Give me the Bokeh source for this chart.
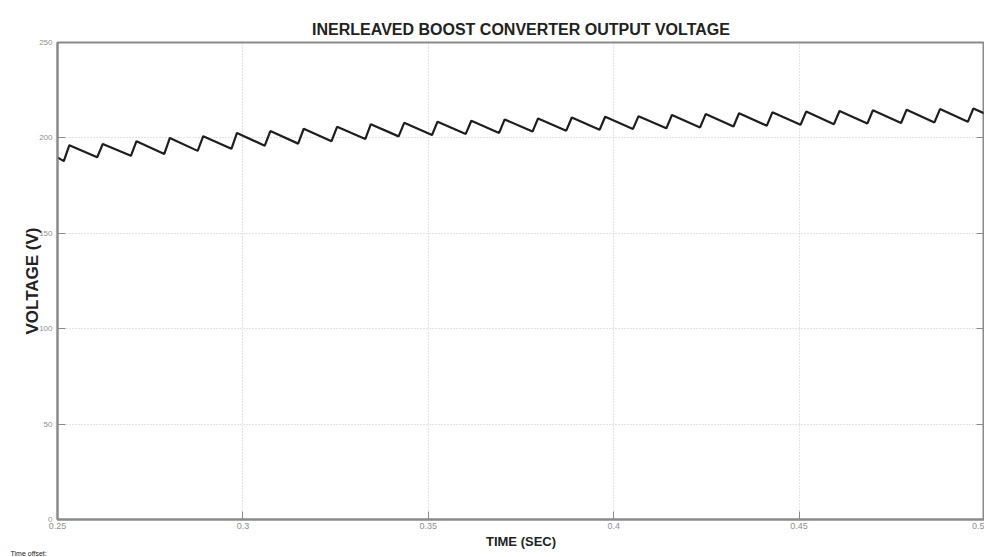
from bokeh.plotting import figure
from bokeh.models import FixedTicker, LinearAxis, Title, CustomJSTickFormatter, Range1d
from bokeh.embed import file_html
from bokeh.resources import INLINE

# Data: ripple peaks and valleys of the output voltage
peak_t = [0.2532, 0.2622, 0.2713, 0.2803, 0.2893, 0.2984, 0.3074, 0.3164, 0.3254, 0.3345,
          0.3435, 0.3525, 0.3616, 0.3706, 0.3796, 0.3887, 0.3977, 0.4067, 0.4157, 0.4248,
          0.4338, 0.4428, 0.4519, 0.4609, 0.4699, 0.4790, 0.4880, 0.4970]
peak_v = [196.2, 196.8, 198.3, 200.0, 200.9, 202.6, 203.6, 204.8, 205.8, 207.2,
          207.9, 208.5, 209.0, 209.7, 210.2, 210.7, 211.1, 211.4, 212.0, 212.5,
          212.9, 213.4, 213.8, 214.1, 214.5, 214.8, 215.1, 215.4]
valley_t = [0.2517, 0.2607, 0.2698, 0.2788, 0.2878, 0.2969, 0.3059, 0.3149, 0.3239, 0.3330,
            0.3420, 0.3510, 0.3601, 0.3691, 0.3781, 0.3872, 0.3962, 0.4052, 0.4142, 0.4233,
            0.4323, 0.4413, 0.4504, 0.4594, 0.4684, 0.4775, 0.4865, 0.4955]
valley_v = [187.8, 189.8, 190.6, 191.6, 193.2, 194.3, 195.9, 197.0, 198.3, 199.4,
            200.8, 201.5, 202.1, 202.6, 203.3, 203.8, 204.3, 204.7, 205.0, 205.5,
            206.0, 206.4, 206.9, 207.2, 207.5, 207.8, 208.1, 208.4]
start_point = (0.25, 189.8)
end_point = (0.50, 212.8)

x_ticks = [0.25, 0.3, 0.35, 0.4, 0.45, 0.5]
x_tick_labels = ["0.25", "0.3", "0.35", "0.4", "0.45", "0.5"]
y_ticks = [0, 50, 100, 150, 200, 250]

# Build waveform sequence
t = [start_point[0]]
v = [start_point[1]]
for vt, vv, pt, pv in zip(valley_t, valley_v, peak_t, peak_v):
    t += [vt, pt]
    v += [vv, pv]
t.append(end_point[0])
v.append(end_point[1])

GRAY = "#8a8a8a"
FONT = "Liberation Sans"
p = figure(width=984, height=557, output_backend="svg", toolbar_location=None,
           x_range=Range1d(0.25, 0.5), y_range=Range1d(0, 250),
           title="INERLEAVED BOOST CONVERTER OUTPUT VOLTAGE",
           min_border_left=57, min_border_right=0, min_border_top=42, min_border_bottom=38)

p.title.align = "center"
p.title.text_font = FONT
p.title.text_font_size = "16px"
p.title.text_font_style = "bold"
p.title.text_color = "#222222"
p.title.standoff = 10

p.line(t, v, line_color="#1e1e1e", line_width=2.2)

p.outline_line_color = GRAY
p.outline_line_width = 2
p.background_fill_color = "white"
p.border_fill_color = "white"

for ax in (p.xaxis[0], p.yaxis[0]):
    ax.axis_line_color = GRAY
    ax.axis_line_width = 2
    ax.major_tick_in = 8
    ax.major_tick_out = 0
    ax.major_tick_line_color = GRAY
    ax.minor_tick_line_color = None
    ax.major_label_text_color = "#8f8f8f"
    ax.major_label_text_font = FONT
    ax.major_label_text_font_size = "9px"
    ax.axis_label_text_font_style = "bold"
    ax.axis_label_text_color = "#222222"
    ax.axis_label_text_font = FONT

p.yaxis.major_label_text_font_size = "8px"
p.xaxis.ticker = FixedTicker(ticks=x_ticks)
p.xaxis.major_label_overrides = {tv: lab for tv, lab in zip(x_ticks, x_tick_labels)}
p.xaxis.major_label_standoff = 3
p.yaxis.ticker = FixedTicker(ticks=y_ticks)
p.xaxis.axis_label = "TIME (SEC)"
p.xaxis.axis_label_text_font_size = "13px"
p.xaxis.axis_label_standoff = 2
p.yaxis.axis_label = "VOLTAGE (V)"
p.yaxis.axis_label_text_font_size = "17px"
p.yaxis.axis_label_standoff = -6

right_ax = LinearAxis(ticker=FixedTicker(ticks=y_ticks),
                      formatter=CustomJSTickFormatter(code="return ''"),
                      axis_line_color=GRAY, axis_line_width=2, major_tick_in=8, major_tick_out=0,
                      major_tick_line_color=GRAY, minor_tick_line_color=None,
                      major_label_standoff=0)
p.add_layout(right_ax, "right")

p.xgrid.grid_line_color = "#c8c8c8"
p.xgrid.grid_line_dash = "1 2"
p.ygrid.grid_line_color = "#c8c8c8"
p.ygrid.grid_line_dash = "1 2"

p.add_layout(Title(text="Time offset:", align="left", offset=-47, standoff=-8,
                   text_font_size="7px", text_font=FONT, text_font_style="normal",
                   text_color="#222222"), "below")

open("out.html", "w").write(file_html(p, INLINE))
